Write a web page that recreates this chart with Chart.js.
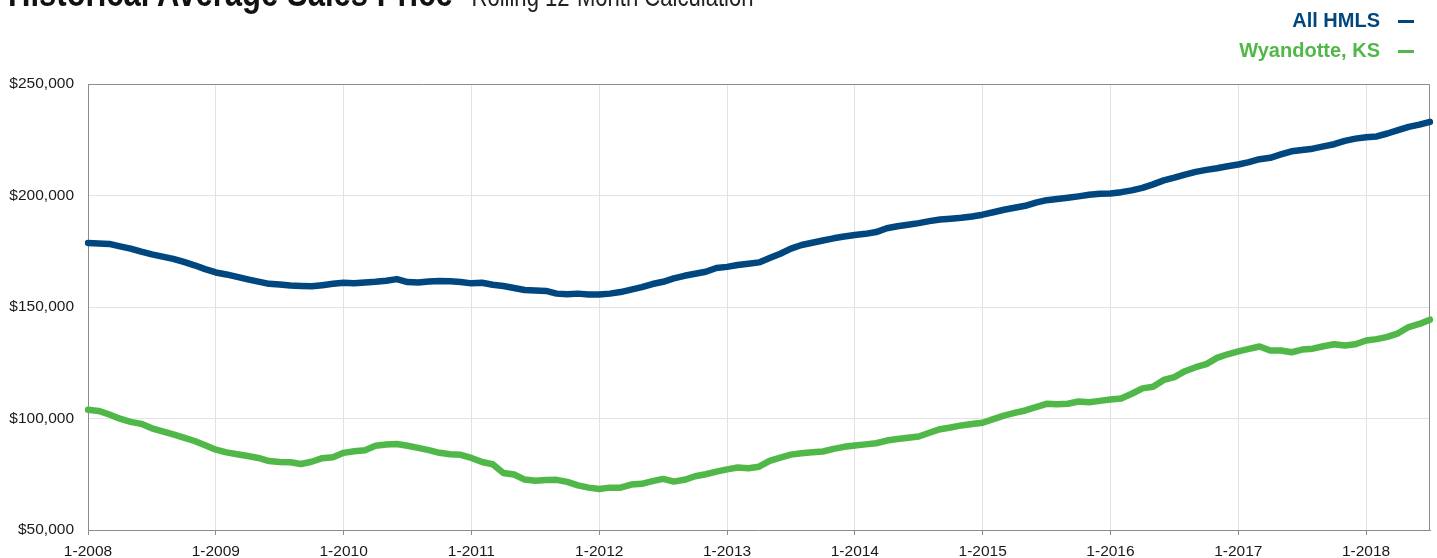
<!DOCTYPE html>
<html>
<head>
<meta charset="utf-8">
<script src="https://cdn.jsdelivr.net/npm/chart.js@4.4.1/dist/chart.umd.min.js"></script>
<style>
  html, body { margin: 0; padding: 0; background: #fff; overflow: hidden; }
  #wrap { position: relative; width: 1437px; height: 558px; }
  #chart { position: absolute; left: 0; top: 0; }
  #title { position: absolute; left: 8px; top: -26px; line-height: 1; white-space: nowrap;
           transform: scaleX(0.817); transform-origin: 0 0;
           font-family: "Liberation Sans", Arial, sans-serif; color: #111; }
  #title b { font-size: 38px; font-weight: bold; }
  #title span { font-size: 27px; margin-left: 23px; color: #222; }
  #legend { position: absolute; right: 23px; top: 8px; text-align: right;
            font-family: "Liberation Sans", Arial, sans-serif; font-weight: bold; font-size: 20px; }
  .leg-row { height: 30px; line-height: 24px; white-space: nowrap; }
  .leg-dash { display: inline-block; width: 16px; height: 3px; margin-left: 18px; vertical-align: middle; }
</style>
</head>
<body>
<div id="wrap">
  <canvas id="chart" width="1437" height="558"></canvas>
  <div id="title"><b>Historical Average Sales Price</b><span>Rolling 12-Month Calculation</span></div>
  <div id="legend"></div>
</div>
<script>
// ─── Data ────────────────────────────────────────────────────────────────────
const startYear = 2008;
const monthCount = 127; // 1-2008 … 7-2018
const yearTicks = ['1-2008', '1-2009', '1-2010', '1-2011', '1-2012', '1-2013',
                   '1-2014', '1-2015', '1-2016', '1-2017', '1-2018'];

const seriesNames = ['All HMLS', 'Wyandotte, KS'];
const seriesColors = ['#00477f', '#50b848'];

// prix moyens en milliers de $
const allHmls = [
  178.7, 178.5, 178.3, 177.2, 176.2, 174.8, 173.6, 172.6, 171.6, 170.2, 168.7, 167.0,
  165.5, 164.6, 163.5, 162.4, 161.4, 160.4, 160.1, 159.6, 159.4, 159.3, 159.8, 160.4,
  160.9, 160.6, 161.0, 161.3, 161.8, 162.5, 161.2, 161.0, 161.4, 161.7, 161.5, 161.2,
  160.6, 160.9, 160.0, 159.4, 158.5, 157.6, 157.4, 157.2, 156.0, 155.7, 156.0, 155.6,
  155.6, 156.0, 156.7, 157.8, 158.9, 160.3, 161.3, 162.8, 164.0, 164.9, 165.8, 167.5,
  168.0, 168.8, 169.4, 170.0, 172.0, 173.9, 176.2, 177.8, 178.8, 179.8, 180.8, 181.6,
  182.3, 182.8, 183.6, 185.3, 186.2, 186.9, 187.6, 188.5, 189.2, 189.6, 190.0, 190.6,
  191.4, 192.5, 193.6, 194.5, 195.4, 196.8, 197.9, 198.4, 199.0, 199.6, 200.3, 200.8,
  200.9, 201.5, 202.3, 203.4, 205.0, 206.8, 208.0, 209.4, 210.6, 211.5, 212.2, 213.1,
  213.9, 215.0, 216.3, 216.9, 218.4, 219.8, 220.4, 221.0, 222.0, 223.0, 224.5, 225.5,
  226.1, 226.5, 227.8, 229.3, 230.8, 231.8, 233.0
];

const wyandotte = [
  103.9, 103.4, 101.8,  99.9,  98.5,  97.6,  95.6,  94.2,  92.9,  91.4,  89.9,  88.0,
   86.0,  84.8,  84.0,  83.2,  82.3,  80.9,  80.5,  80.4,  79.6,  80.6,  82.2,  82.6,
   84.6,  85.3,  85.8,  87.8,  88.3,  88.6,  87.8,  86.8,  85.8,  84.6,  84.0,  83.7,
   82.3,  80.5,  79.5,  75.6,  74.9,  72.6,  72.1,  72.4,  72.5,  71.6,  70.0,  69.0,
   68.4,  69.0,  69.0,  70.4,  70.7,  71.9,  72.9,  71.7,  72.5,  74.1,  75.0,  76.2,
   77.2,  78.0,  77.7,  78.4,  81.0,  82.5,  83.8,  84.4,  84.9,  85.2,  86.4,  87.3,
   87.9,  88.4,  88.9,  90.1,  90.8,  91.4,  91.9,  93.6,  95.2,  96.0,  96.9,  97.5,
   98.1,  99.7, 101.3, 102.5, 103.6, 105.1, 106.6, 106.4, 106.6, 107.6, 107.3, 107.9,
  108.5, 109.0, 111.1, 113.5, 114.2, 117.3, 118.6, 121.2, 123.0, 124.4, 127.2, 128.8,
  130.1, 131.2, 132.3, 130.5, 130.5, 129.7, 130.9, 131.3, 132.4, 133.3, 132.7, 133.3,
  135.0, 135.6, 136.6, 138.2, 141.0, 142.4, 144.3
];

const yMin = 50000, yMax = 250000, yStep = 50000;

// ─── Chart ───────────────────────────────────────────────────────────────────
const monthLabels = [];
for (let i = 0; i < monthCount; i++) {
  monthLabels.push(`${(i % 12) + 1}-${startYear + Math.floor(i / 12)}`);
}

const FONT = '"Liberation Sans", Arial, sans-serif';
const usd = v => '$' + new Intl.NumberFormat('en-US').format(v);

// cadre haut/droite de la zone de tracé
const frame = {
  id: 'frame',
  beforeDatasetsDraw(chart) {
    const { ctx, chartArea: a } = chart;
    ctx.save();
    ctx.strokeStyle = '#8c8c8c';
    ctx.lineWidth = 1;
    ctx.beginPath();
    ctx.moveTo(a.left, a.top + 0.5);
    ctx.lineTo(a.right - 0.5, a.top + 0.5);
    ctx.lineTo(a.right - 0.5, a.bottom);
    ctx.stroke();
    ctx.restore();
  },
};

new Chart(document.getElementById('chart'), {
  type: 'line',
  data: {
    labels: monthLabels,
    datasets: [allHmls, wyandotte].map((vals, k) => ({
      label: seriesNames[k],
      data: vals.map(v => v * 1000),
      borderColor: seriesColors[k],
      borderWidth: 6.5,
      tension: 0,
      pointRadius: 0,
      borderJoinStyle: 'round',
      borderCapStyle: 'round',
      fill: false,
    })),
  },
  options: {
    responsive: false,
    animation: false,
    layout: { padding: { top: 84, right: 7, left: 0, bottom: 0 } },
    plugins: { legend: { display: false }, tooltip: { enabled: false } },
    scales: {
      x: {
        afterFit: s => { s.height = 28; },
        border: { color: '#8c8c8c', width: 1 },
        grid: { color: '#e2e2e2', tickColor: '#8c8c8c', tickLength: 5 },
        ticks: {
          autoSkip: false, maxRotation: 0, padding: 7, color: '#1a1a1a',
          font: { family: FONT, size: 15.5 },
          callback: (v, i) => yearTicks.includes(monthLabels[i]) ? monthLabels[i] : null,
        },
      },
      y: {
        min: yMin, max: yMax,
        afterFit: s => { s.width = 88; },
        border: { color: '#8c8c8c', width: 1 },
        grid: { color: '#e2e2e2', drawTicks: false },
        ticks: {
          stepSize: yStep, padding: 14, color: '#1a1a1a',
          font: { family: FONT, size: 15.5 },
          callback: v => usd(v),
        },
      },
    },
  },
  plugins: [frame],
});

// ─── Légende ─────────────────────────────────────────────────────────────────
document.getElementById('legend').innerHTML = seriesNames.map((n, k) =>
  `<div class="leg-row" style="color:${seriesColors[k]}">${n}<span class="leg-dash" style="background:${seriesColors[k]}"></span></div>`
).join('');
</script>
</body>
</html>
